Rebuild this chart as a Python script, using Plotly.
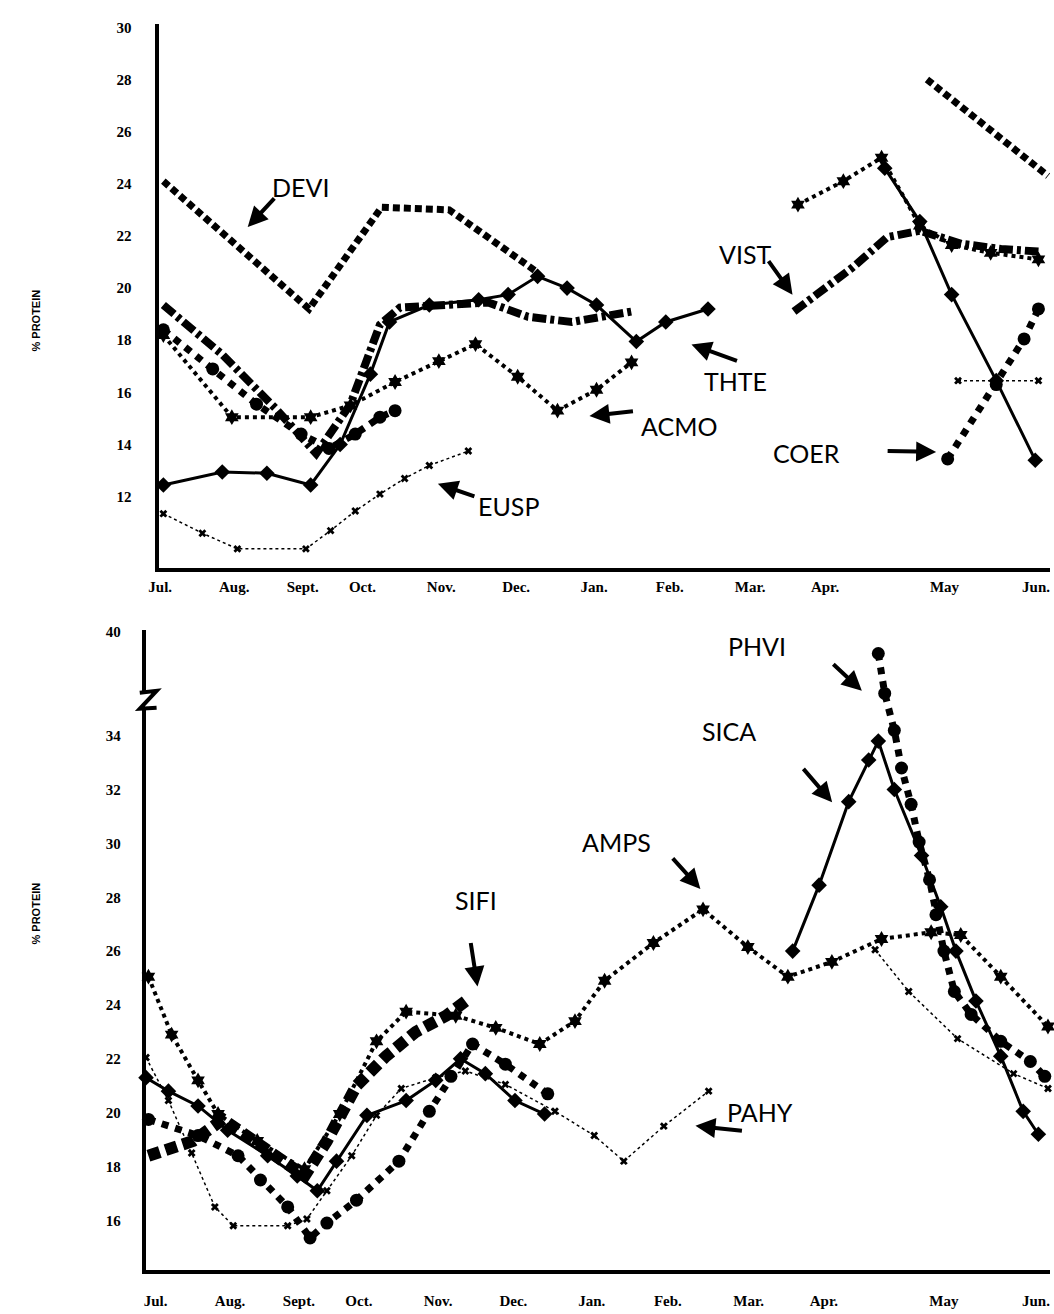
import plotly.graph_objects as go

W, H = 1054, 1314

months = ["Jul.", "Aug.", "Sept.", "Oct.", "Nov.", "Dec.", "Jan.", "Feb.", "Mar.", "Apr.", "May", "Jun."]
month_pos = [0, 0.93, 1.79, 2.54, 3.53, 4.47, 5.45, 6.40, 7.41, 8.35, 9.85, 11.0]

# ---- upper panel (x in month units from Jul., None = gap) ----
devi_x = [0.04, 1.87, 2.78, 3.63, 4.74, None, 9.63, 11.15]
devi_y = [24.1, 19.2, 23.1, 23.0, 20.6, None, 28.0, 24.3]

vist_x = [0.04, 0.78, 1.46, 1.96, 2.39, 2.76, 3.01, 3.63, 4.12, 4.62, 5.17, 5.92,
          None, 7.96, 8.70, 9.13, 9.54, 10.06, 10.56, 11.03]
vist_y = [19.35, 17.45, 15.35, 13.65, 15.55, 18.6, 19.25, 19.35, 19.45, 18.9, 18.7, 19.1,
          None, 19.1, 20.8, 21.95, 22.2, 21.7, 21.5, 21.4]

thte_x = [0.04, 0.78, 1.34, 1.89, 2.26, 2.64, 2.88, 3.38, 4.00, 4.37, 4.74, 5.11, 5.48, 5.98, 6.35, 6.88,
          None, 9.10, 9.54, 9.94, 10.50, 10.99]
thte_y = [12.45, 12.95, 12.9, 12.45, 14.0, 16.7, 18.7, 19.35, 19.55, 19.75, 20.45, 20.0, 19.35, 17.95, 18.7, 19.2,
          None, 24.6, 22.55, 19.75, 16.45, 13.4]

acmo_x = [0.04, 0.90, 1.89, 2.39, 2.95, 3.50, 3.96, 4.49, 4.99, 5.48, 5.92,
          None, 8.01, 8.58, 9.06, 9.54, 9.94, 10.43, 11.03]
acmo_y = [18.2, 15.05, 15.05, 15.5, 16.4, 17.2, 17.85, 16.6, 15.3, 16.1, 17.15,
          None, 23.2, 24.1, 25.0, 22.4, 21.65, 21.35, 21.1]

coer_x = [0.04, 0.66, 1.21, 1.77, 2.12, 2.45, 2.76, 2.95, None, 9.89, 10.50, 10.85, 11.03]
coer_y = [18.4, 16.9, 15.55, 14.4, 13.85, 14.4, 15.05, 15.3, None, 13.45, 16.3, 18.05, 19.2]

eusp_x = [0.04, 0.53, 0.97, 1.83, 2.14, 2.45, 2.76, 3.07, 3.38, 3.87, None, 10.02, 11.03]
eusp_y = [11.35, 10.6, 10.0, 10.0, 10.7, 11.45, 12.1, 12.7, 13.2, 13.75, None, 16.45, 16.45]

# ---- lower panel ----
amps_x = [-0.09, 0.20, 0.53, 0.78, 1.27, 1.86, 2.30, 2.76, 3.13, 3.75, 4.25, 4.80,
          5.24, 5.61, 6.22, 6.84, 7.40, 7.90, 8.45, 9.07, 9.69, 10.06, 10.56, 11.15]
amps_y = [25.05, 22.9, 21.2, 19.95, 18.95, 17.9, 19.95, 22.65, 23.75, 23.6, 23.15, 22.55,
          23.4, 24.9, 26.3, 27.55, 26.15, 25.05, 25.6, 26.45, 26.7, 26.6, 25.05, 23.2]

sifi_x = [-0.09, 0.47, 0.84, 1.40, 1.86, 2.14, 2.51, 2.88, 3.25, 3.63, 3.90]
sifi_y = [18.4, 18.95, 19.75, 18.6, 17.65, 18.95, 21.0, 22.1, 23.0, 23.6, 24.2]

pahy_x = [-0.12, 0.16, 0.45, 0.74, 0.97, 1.65, 1.89, 2.14, 2.45, 2.76, 3.07, 3.50, 3.87, 4.37,
          4.99, 5.48, 5.85, 6.35, 6.91, None, 8.99, 9.41, 10.02, 10.72, 11.15]
pahy_y = [22.05, 20.45, 18.5, 16.5, 15.8, 15.8, 16.05, 17.1, 18.4, 19.9, 20.9, 21.3, 21.55, 21.05,
          20.05, 19.15, 18.2, 19.5, 20.8, None, 26.05, 24.5, 22.75, 21.45, 20.9]

phvi_x = [-0.09, 0.53, 1.03, 1.31, 1.65, 1.93, 2.14, 2.51, 3.04, 3.42, 3.69, 3.96, 4.37, 4.90,
          None, 9.03, 9.11, 9.23, 9.32, 9.44, 9.54, 9.67, 9.75, 9.85, 9.98, 10.19, 10.56, 10.93, 11.11]
phvi_y = [19.75, 19.15, 18.4, 17.5, 16.5, 15.35, 15.9, 16.75, 18.2, 20.05, 21.35, 22.55, 21.8, 20.7,
          None, 38.6, 36.0, 34.2, 32.8, 31.45, 30.05, 28.65, 27.35, 26.0, 24.5, 23.65, 22.65, 21.9, 21.35]

sica_x = [-0.12, 0.16, 0.53, 0.90, 1.40, 1.77, 2.02, 2.26, 2.64, 3.13, 3.50, 3.81, 4.12, 4.49, 4.86,
          None, 7.96, 8.29, 8.66, 8.91, 9.03, 9.23, 9.57, 9.81, 10.00, 10.25, 10.56, 10.84, 11.03]
sica_y = [21.3, 20.8, 20.25, 19.35, 18.4, 17.65, 17.1, 18.2, 19.9, 20.45, 21.2, 22.0, 21.45, 20.45, 19.95,
          None, 26.0, 28.45, 31.55, 33.1, 33.8, 32.0, 29.55, 27.65, 26.0, 24.15, 22.1, 20.05, 19.2]

top_ticks = [12, 14, 16, 18, 20, 22, 24, 26, 28, 30]
bottom_ticks = [16, 18, 20, 22, 24, 26, 28, 30, 32, 34, 40]

BREAK = 35
SQUEEZE = 0.57


def brk(v):
    # values above the axis break are drawn on a compressed scale
    if v is None or v <= BREAK:
        return v
    return BREAK + (v - BREAK) * SQUEEZE


def px(x):
    return x / W


def py(y):
    return 1 - y / H


styles = {
    "devi": dict(mode="lines", line=dict(color="black", width=7, dash="7px,4px")),
    "vist": dict(mode="lines", line=dict(color="black", width=8, dash="14px,4px,4px,4px")),
    "diam": dict(mode="lines+markers", line=dict(color="black", width=3),
                 marker=dict(symbol="diamond", size=12, color="black")),
    "star": dict(mode="lines+markers", line=dict(color="black", width=4, dash="dot"),
                 marker=dict(symbol="hexagram", size=12, color="black")),
    "circ": dict(mode="lines+markers", line=dict(color="black", width=7, dash="dot"),
                 marker=dict(symbol="circle", size=13, color="black")),
    "xx": dict(mode="lines+markers", line=dict(color="black", width=1.5, dash="dot"),
               marker=dict(symbol="x", size=7, color="black")),
    "sifi": dict(mode="lines", line=dict(color="black", width=12, dash="12px,6px")),
}

fig = go.Figure()

top_series = [
    (devi_x, devi_y, "devi"), (vist_x, vist_y, "vist"), (thte_x, thte_y, "diam"),
    (acmo_x, acmo_y, "star"), (coer_x, coer_y, "circ"), (eusp_x, eusp_y, "xx"),
]
for xs, ys, st in top_series:
    fig.add_trace(go.Scatter(x=xs, y=ys, xaxis="x", yaxis="y", connectgaps=False,
                             showlegend=False, hoverinfo="skip", cliponaxis=False, **styles[st]))

bottom_series = [
    (amps_x, amps_y, "star"), (sifi_x, sifi_y, "sifi"), (pahy_x, pahy_y, "xx"),
    (phvi_x, phvi_y, "circ"), (sica_x, sica_y, "diam"),
]
for xs, ys, st in bottom_series:
    fig.add_trace(go.Scatter(x=xs, y=[brk(v) for v in ys], xaxis="x2", yaxis="y2",
                             connectgaps=False, showlegend=False, hoverinfo="skip",
                             cliponaxis=False, **styles[st]))

tick_font = dict(family="Liberation Serif", size=15, color="black", weight="bold")
axis_common = dict(showgrid=False, zeroline=False, showline=True, linecolor="black",
                   linewidth=4, ticks="", tickfont=tick_font, ticklabeloverflow="allow")

X_END = (1050 - 147) / 80.8

fig.update_layout(
    width=W, height=H,
    margin=dict(l=0, r=0, t=0, b=0),
    paper_bgcolor="white", plot_bgcolor="white",
    hovermode=False,
    xaxis=dict(domain=[px(150), px(1050)], range=[-0.02, X_END], anchor="y",
               tickvals=month_pos, ticktext=months, ticklabelstandoff=2, **axis_common),
    yaxis=dict(domain=[py(565), py(18)], range=[9.25, 30.13], anchor="x",
               tickvals=top_ticks, ticktext=[str(t) for t in top_ticks],
               ticklabelstandoff=20, **axis_common),
    xaxis2=dict(domain=[px(137), px(1050)], range=[-0.124, X_END], anchor="y2",
                tickvals=month_pos, ticktext=months, ticklabelstandoff=14, **axis_common),
    yaxis2=dict(domain=[py(1270), py(627)], range=[14.15, 37.92], anchor="x2",
                tickvals=[brk(t) for t in bottom_ticks], ticktext=[str(t) for t in bottom_ticks],
                ticklabelstandoff=18, **axis_common),
)

label_font = dict(family="Lato", size=25, color="black")
labels = [
    # text, text centre, arrow tail, arrow head (pixels)
    ("DEVI", (262, 165), (268, 192), (240, 222)),
    ("VIST", (770, 232), (765, 255), (790, 290)),
    ("THTE", (766, 360), (735, 357), (688, 340)),
    ("ACMO", (675, 405), (630, 407), (585, 412)),
    ("COER", (840, 432), (885, 447), (935, 448)),
    ("EUSP", (503, 502), (470, 493), (432, 480)),
    ("PHVI", (785, 643), (830, 660), (860, 688)),
    ("SICA", (755, 728), (800, 765), (830, 800)),
    ("AMPS", (612, 840), (668, 855), (697, 887)),
    ("SIFI", (470, 915), (465, 940), (472, 985)),
    ("PAHY", (793, 1128), (740, 1130), (692, 1125)),
]
for text, (tx, ty), (ax, ay), (hx, hy) in labels:
    fig.add_annotation(x=px(tx), y=py(ty), xref="paper", yref="paper", text=text,
                       showarrow=False, font=label_font)
    fig.add_annotation(x=px(hx), y=py(hy), xref="paper", yref="paper", text="",
                       showarrow=True, ax=ax - hx, ay=ay - hy, arrowhead=2,
                       arrowsize=1, arrowwidth=4, arrowcolor="black")

for cy in (283, 945):
    fig.add_annotation(x=px(18), y=py(cy), xref="paper", yref="paper", text="% PROTEIN",
                       textangle=-90, showarrow=False,
                       font=dict(family="Liberation Sans", size=11, color="black", weight="bold"))

# axis break mark on the lower y axis
fig.add_shape(type="rect", xref="paper", yref="paper", x0=px(130), x1=px(144),
              y0=py(705), y1=py(690), fillcolor="white", line=dict(width=0))
fig.add_shape(type="path", xref="paper", yref="paper",
              path=f"M {px(131)},{py(690)} L {px(148)},{py(688)} L {px(131)},{py(706)} L {px(148)},{py(705)}",
              line=dict(color="black", width=4))

# drop the page's default body margin so the figure sits at the top-left corner
fig.write_html("out.html", config={"displayModeBar": False},
               post_script="document.body.style.margin = '0';")
